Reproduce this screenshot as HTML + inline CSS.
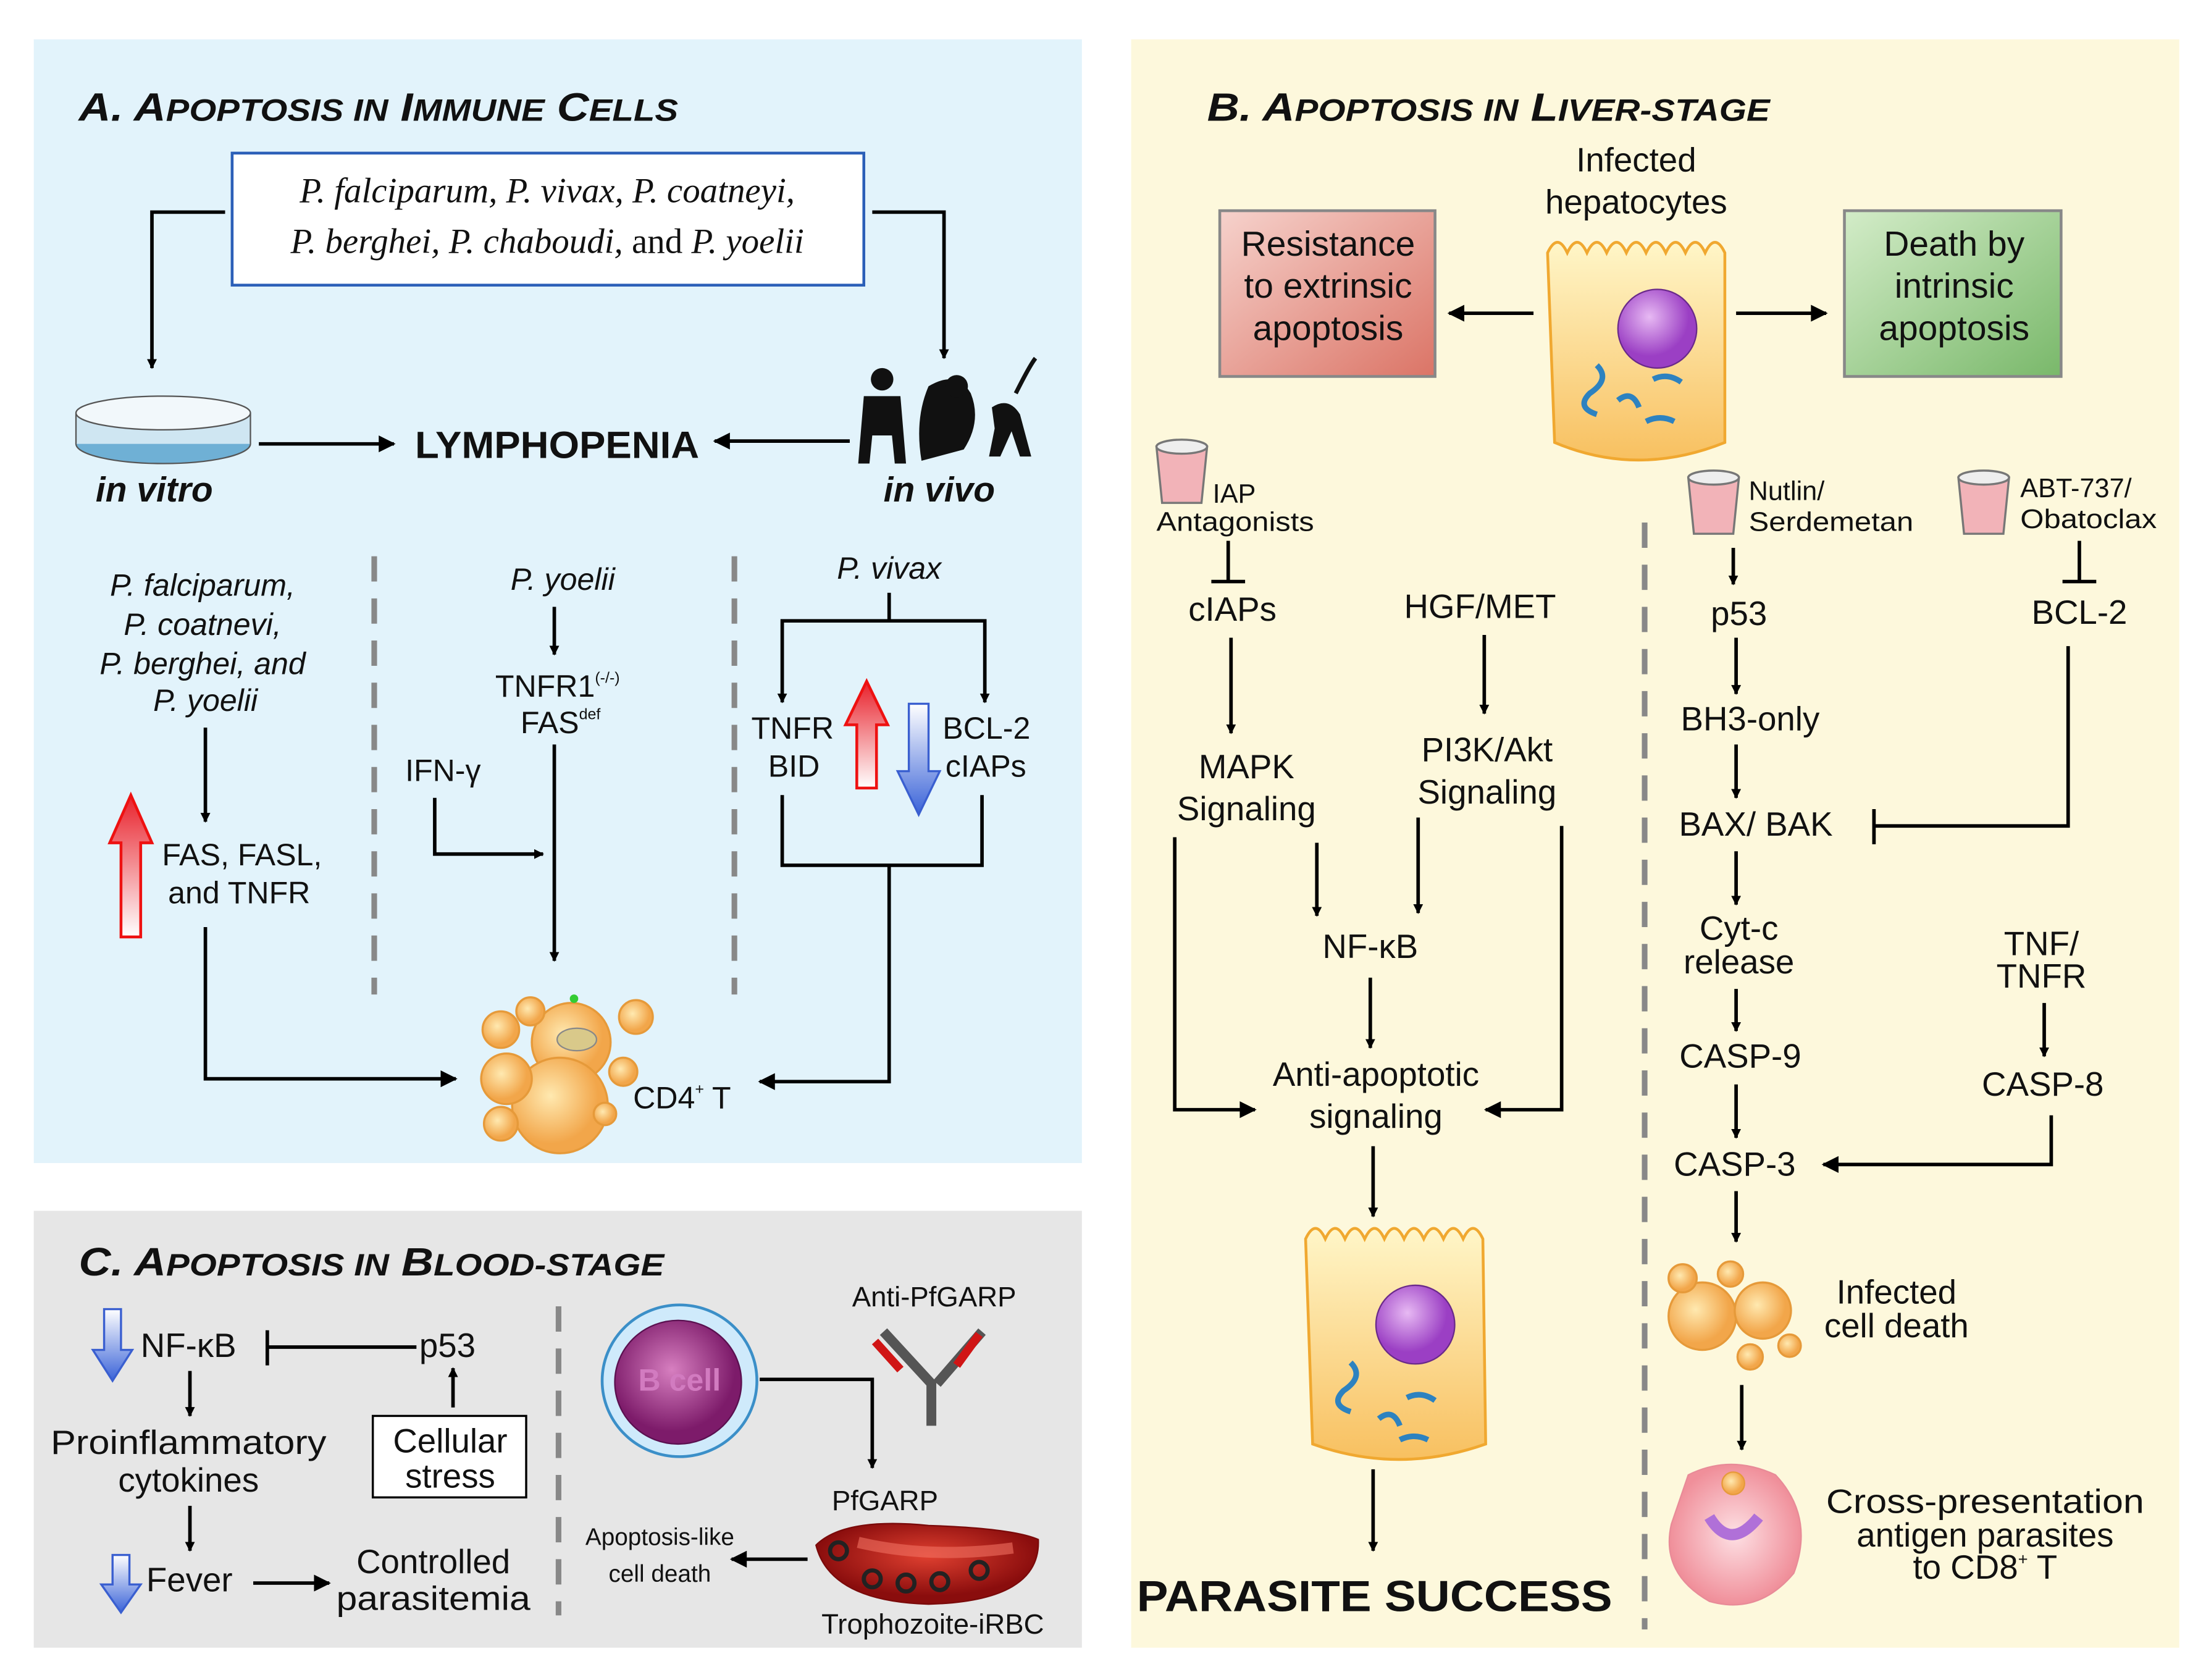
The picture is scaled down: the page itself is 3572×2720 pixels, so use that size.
<!DOCTYPE html>
<html><head><meta charset="utf-8"><style>
html,body{margin:0;padding:0;background:#fff}
svg{display:block}
text{font-family:"Liberation Sans",sans-serif;fill:#111}
.s{font-family:"Liberation Serif",serif;font-style:italic}
.t{font-weight:bold;font-style:italic}
</style></head><body>
<svg width="3572" height="2720" viewBox="0 0 1568 1196" preserveAspectRatio="none" xmlns="http://www.w3.org/2000/svg">
<defs>
<marker id="a" viewBox="0 0 10 10" refX="9" refY="5" markerWidth="7" markerHeight="7" orient="auto" markerUnits="userSpaceOnUse"><path d="M0,0 L10,5 L0,10 z" fill="#000"/></marker>
<marker id="A" viewBox="0 0 10 10" refX="9" refY="5" markerWidth="14" markerHeight="12" orient="auto" markerUnits="userSpaceOnUse"><path d="M0,0 L10,5 L0,10 z" fill="#000"/></marker>
<linearGradient id="red" x1="0" y1="0" x2="0" y2="1"><stop offset="0" stop-color="#e8202a"/><stop offset="1" stop-color="#fff"/></linearGradient>
<linearGradient id="blue" x1="0" y1="1" x2="0" y2="0"><stop offset="0" stop-color="#3a63d8"/><stop offset="1" stop-color="#fff"/></linearGradient>
<linearGradient id="pink" x1="0" y1="0" x2="1" y2="1"><stop offset="0" stop-color="#f6d2cc"/><stop offset="1" stop-color="#db7466"/></linearGradient>
<linearGradient id="green" x1="0" y1="0" x2="1" y2="1"><stop offset="0" stop-color="#d3ecc8"/><stop offset="1" stop-color="#79b86a"/></linearGradient>
<linearGradient id="cell" x1="0" y1="0" x2="0" y2="1"><stop offset="0" stop-color="#fff6c8"/><stop offset="1" stop-color="#f8c060"/></linearGradient>
<radialGradient id="nuc" cx="0.4" cy="0.35"><stop offset="0" stop-color="#e7b9f3"/><stop offset="1" stop-color="#9b3fc4"/></radialGradient>
<radialGradient id="blob" cx="0.4" cy="0.4"><stop offset="0" stop-color="#ffe9b0"/><stop offset="1" stop-color="#f2a64a"/></radialGradient>
<radialGradient id="bc" cx="0.45" cy="0.4"><stop offset="0" stop-color="#d77fc0"/><stop offset="1" stop-color="#7d1b6a"/></radialGradient>
<radialGradient id="rbc" cx="0.5" cy="0.4"><stop offset="0" stop-color="#e04030"/><stop offset="1" stop-color="#8a0d0d"/></radialGradient>
<radialGradient id="apc" cx="0.5" cy="0.5"><stop offset="0" stop-color="#fde0e4"/><stop offset="1" stop-color="#f08f9a"/></radialGradient>
</defs>

<rect x="24" y="28" width="745" height="800" fill="#e2f3fb"/>
<rect x="804" y="28" width="745" height="1145" fill="#fdf8dc"/>
<rect x="24" y="862" width="745" height="311" fill="#e6e6e6"/>

<!-- ===== Panel A ===== -->
<text x="56" y="86" font-size="28" class="t" textLength="426" lengthAdjust="spacingAndGlyphs">A. A<tspan font-size="22">POPTOSIS IN</tspan> I<tspan font-size="22">MMUNE</tspan> C<tspan font-size="22">ELLS</tspan></text>
<rect x="165" y="109" width="449" height="94" fill="#fff" stroke="#2b5fb8" stroke-width="2"/>
<text x="389" y="144" font-size="25" class="s" text-anchor="middle">P. falciparum, P. vivax, P. coatneyi,</text>
<text x="389" y="180" font-size="25" class="s" text-anchor="middle">P. berghei, P. chaboudi, <tspan font-style="normal">and</tspan> P. yoelii</text>
<polyline points="160,151 108,151 108,262" fill="none" stroke="#000" stroke-width="2.5" marker-end="url(#a)"/>
<polyline points="620,151 671,151 671,255" fill="none" stroke="#000" stroke-width="2.5" marker-end="url(#a)"/>
<ellipse cx="116" cy="316" rx="62" ry="14" fill="#6fb0d5" stroke="#555"/>
<rect x="54" y="294" width="124" height="22" fill="#cfe6f2"/>
<path d="M54,294 L54,316 M178,294 L178,316" stroke="#555"/>
<ellipse cx="116" cy="294" rx="62" ry="12" fill="#f2f8fb" stroke="#555"/>
<text x="68" y="357" font-size="25" class="t">in vitro</text>
<text x="628" y="357" font-size="25" class="t">in vivo</text>
<line x1="184" y1="316" x2="280" y2="316" stroke="#000" stroke-width="2.5" marker-end="url(#A)"/>
<text x="295" y="326" font-size="27" font-weight="bold" textLength="202" lengthAdjust="spacingAndGlyphs">LYMPHOPENIA</text>
<line x1="604" y1="314" x2="508" y2="314" stroke="#000" stroke-width="2.5" marker-end="url(#A)"/>
<g fill="#111">
<circle cx="627" cy="270" r="8"/><path d="M614,282 h26 l4,48 h-8 l-2,-20 h-14 l-2,20 h-8 z"/>
<path d="M660,275 q20,-12 30,5 q8,20 -5,40 l-30,8 q-5,-30 5,-53 z"/><circle cx="680" cy="275" r="8"/>
<path d="M705,290 q12,-8 20,5 l8,30 h-8 l-6,-18 l-8,18 h-8 l4,-20 z"/><path d="M722,280 q10,-20 14,-25" stroke="#111" stroke-width="3" fill="none"/>
</g>
<line x1="266" y1="396" x2="266" y2="708" stroke="#888" stroke-width="4" stroke-dasharray="18,12"/>
<line x1="522" y1="396" x2="522" y2="708" stroke="#888" stroke-width="4" stroke-dasharray="18,12"/>
<g font-size="22" text-anchor="middle" font-style="italic">
<text x="144" y="424">P. falciparum,</text>
<text x="144" y="452">P. coatnevi,</text>
<text x="144" y="480">P. berghei, and</text>
<text x="146" y="506">P. yoelii</text>
</g>
<line x1="146" y1="518" x2="146" y2="585" stroke="#000" stroke-width="2.5" marker-end="url(#a)"/>
<path d="M86,667 V600 H78 L93,566 L108,600 H100 V667 Z" fill="url(#red)" stroke="#e11" stroke-width="2"/>
<text x="172" y="616" font-size="22" text-anchor="middle">FAS, FASL,</text>
<text x="170" y="643" font-size="22" text-anchor="middle">and TNFR</text>
<polyline points="146,660 146,768 324,768" fill="none" stroke="#000" stroke-width="2.5" marker-end="url(#A)"/>
<text x="400" y="420" font-size="22" font-style="italic" text-anchor="middle">P. yoelii</text>
<line x1="394" y1="432" x2="394" y2="466" stroke="#000" stroke-width="2.5" marker-end="url(#a)"/>
<text x="352" y="496" font-size="22">TNFR1<tspan font-size="11" dy="-10">(-/-)</tspan></text>
<text x="370" y="522" font-size="22">FAS<tspan font-size="11" dy="-10">def</tspan></text>
<text x="288" y="556" font-size="22">IFN-γ</text>
<polyline points="309,568 309,608 386,608" fill="none" stroke="#000" stroke-width="2.5" marker-end="url(#a)"/>
<line x1="394" y1="530" x2="394" y2="684" stroke="#000" stroke-width="2.5" marker-end="url(#a)"/>
<text x="632" y="412" font-size="22" font-style="italic" text-anchor="middle">P. vivax</text>
<polyline points="632,422 632,442 556,442 556,500" fill="none" stroke="#000" stroke-width="2.5" marker-end="url(#a)"/>
<polyline points="632,442 700,442 700,500" fill="none" stroke="#000" stroke-width="2.5" marker-end="url(#a)"/>
<text x="534" y="526" font-size="22">TNFR</text>
<text x="546" y="553" font-size="22">BID</text>
<path d="M609,561 V516 H601 L616,485 L631,516 H623 V561 Z" fill="url(#red)" stroke="#e11" stroke-width="2"/>
<path d="M646,501 V549 H638 L653,580 L668,549 H660 V501 Z" fill="url(#blue)" stroke="#3a5fd0" stroke-width="1.5"/>
<text x="670" y="526" font-size="22">BCL-2</text>
<text x="672" y="553" font-size="22">cIAPs</text>
<polyline points="556,566 556,616 698,616 698,566" fill="none" stroke="#000" stroke-width="2.5"/>
<polyline points="632,616 632,770 540,770" fill="none" stroke="#000" stroke-width="2.5" marker-end="url(#A)"/>
<g stroke="#e69a3a" stroke-width="1.5" fill="url(#blob)">
<circle cx="406" cy="742" r="28"/><circle cx="398" cy="787" r="34"/><circle cx="360" cy="768" r="18"/>
<circle cx="356" cy="733" r="13"/><circle cx="452" cy="724" r="12"/><circle cx="443" cy="763" r="10"/>
<circle cx="356" cy="800" r="12"/><circle cx="377" cy="720" r="10"/><circle cx="430" cy="793" r="8"/>
</g>
<ellipse cx="410" cy="740" rx="14" ry="8" fill="#d9c98a" stroke="#888"/>
<circle cx="408" cy="711" r="3" fill="#3c3"/>
<text x="450" y="789" font-size="22">CD4<tspan font-size="11" dy="-10">+</tspan><tspan dy="10"> T</tspan></text>

<!-- ===== Panel C ===== -->
<text x="56" y="908" font-size="28" class="t" textLength="416" lengthAdjust="spacingAndGlyphs">C. A<tspan font-size="22">POPTOSIS IN</tspan> B<tspan font-size="22">LOOD-STAGE</tspan></text>
<path d="M74,932 V961 H66 L80,983 L94,961 H86 V932 Z" fill="url(#blue)" stroke="#3a5fd0" stroke-width="1.5"/>
<text x="100" y="966" font-size="24">NF-κB</text>
<line x1="190" y1="947" x2="190" y2="972" stroke="#000" stroke-width="2.5"/>
<line x1="190" y1="959" x2="296" y2="959" stroke="#000" stroke-width="2.5"/>
<text x="298" y="966" font-size="24">p53</text>
<line x1="322" y1="1002" x2="322" y2="974" stroke="#000" stroke-width="2.5" marker-end="url(#a)"/>
<rect x="265" y="1008" width="109" height="58" fill="#fff" stroke="#000" stroke-width="1.5"/>
<text x="320" y="1034" font-size="24" text-anchor="middle">Cellular</text>
<text x="320" y="1059" font-size="24" text-anchor="middle">stress</text>
<line x1="135" y1="976" x2="135" y2="1008" stroke="#000" stroke-width="2.5" marker-end="url(#a)"/>
<text x="134" y="1035" font-size="24" text-anchor="middle" textLength="196" lengthAdjust="spacingAndGlyphs">Proinflammatory</text>
<text x="134" y="1062" font-size="24" text-anchor="middle">cytokines</text>
<line x1="135" y1="1072" x2="135" y2="1104" stroke="#000" stroke-width="2.5" marker-end="url(#a)"/>
<path d="M80,1107 V1128 H72 L86,1148 L100,1128 H92 V1107 Z" fill="url(#blue)" stroke="#3a5fd0" stroke-width="1.5"/>
<text x="104" y="1133" font-size="24">Fever</text>
<line x1="180" y1="1127" x2="234" y2="1127" stroke="#000" stroke-width="2.5" marker-end="url(#A)"/>
<text x="308" y="1120" font-size="24" text-anchor="middle">Controlled</text>
<text x="308" y="1146" font-size="24" text-anchor="middle" textLength="138" lengthAdjust="spacingAndGlyphs">parasitemia</text>
<line x1="397" y1="930" x2="397" y2="1150" stroke="#888" stroke-width="4" stroke-dasharray="18,12"/>
<ellipse cx="483" cy="983" rx="55" ry="54" fill="#cfeafb" stroke="#3b8fc8" stroke-width="2"/>
<ellipse cx="482" cy="984" rx="45" ry="44" fill="url(#bc)" stroke="#5a1050"/>
<text x="483" y="990" font-size="22" font-weight="bold" text-anchor="middle" style="fill:#d27bc0">B cell</text>
<polyline points="540,982 620,982 620,1045" fill="none" stroke="#000" stroke-width="2.5" marker-end="url(#a)"/>
<text x="664" y="930" font-size="20" text-anchor="middle">Anti-PfGARP</text>
<path d="M662,1015 V985 L628,948 M666,985 L698,948" stroke="#555" stroke-width="7" fill="none"/>
<path d="M622,955 L640,975 M696,950 L680,972" stroke="#d01515" stroke-width="6"/>
<text x="629" y="1075" font-size="20" text-anchor="middle">PfGARP</text>
<path d="M580,1100 Q600,1080 660,1086 Q720,1088 738,1096 Q740,1140 660,1142 Q590,1140 580,1100 Z" fill="url(#rbc)" stroke="#7a0a0a"/>
<g fill="none" stroke="#222" stroke-width="3"><circle cx="596" cy="1104" r="6"/><circle cx="620" cy="1124" r="6"/><circle cx="644" cy="1127" r="6"/><circle cx="668" cy="1126" r="6"/><circle cx="696" cy="1118" r="6"/></g>
<path d="M610,1098 Q660,1110 720,1102" stroke="#f07060" stroke-width="8" fill="none" opacity=".6"/>
<line x1="574" y1="1110" x2="520" y2="1110" stroke="#000" stroke-width="2.5" marker-end="url(#A)"/>
<text x="469" y="1100" font-size="17" text-anchor="middle">Apoptosis-like</text>
<text x="469" y="1126" font-size="17" text-anchor="middle">cell death</text>
<text x="663" y="1163" font-size="20" text-anchor="middle">Trophozoite-iRBC</text>

<!-- ===== Panel B ===== -->
<text x="858" y="86" font-size="28" class="t" textLength="400" lengthAdjust="spacingAndGlyphs">B. A<tspan font-size="22">POPTOSIS IN</tspan> L<tspan font-size="22">IVER-STAGE</tspan></text>
<text x="1163" y="122" font-size="24" text-anchor="middle">Infected</text>
<text x="1163" y="152" font-size="24" text-anchor="middle">hepatocytes</text>
<rect x="867" y="150" width="153" height="118" fill="url(#pink)" stroke="#888" stroke-width="2"/>
<text x="944" y="182" font-size="25" text-anchor="middle">Resistance</text>
<text x="944" y="212" font-size="25" text-anchor="middle">to extrinsic</text>
<text x="944" y="242" font-size="25" text-anchor="middle">apoptosis</text>
<rect x="1311" y="150" width="154" height="118" fill="url(#green)" stroke="#888" stroke-width="2"/>
<text x="1389" y="182" font-size="25" text-anchor="middle">Death by</text>
<text x="1389" y="212" font-size="25" text-anchor="middle">intrinsic</text>
<text x="1389" y="242" font-size="25" text-anchor="middle">apoptosis</text>
<line x1="1090" y1="223" x2="1030" y2="223" stroke="#000" stroke-width="2.5" marker-end="url(#A)"/>
<line x1="1234" y1="223" x2="1298" y2="223" stroke="#000" stroke-width="2.5" marker-end="url(#A)"/>
<path d="M1100,180 q7,-15 14,0 q7,-15 14,0 q7,-15 14,0 q7,-15 14,0 q7,-15 14,0 q7,-15 14,0 q7,-15 14,0 q7,-15 14,0 q7,-15 14,0 L1226,315 Q1164,340 1105,315 Z" fill="url(#cell)" stroke="#f0a830" stroke-width="2"/>
<circle cx="1178" cy="234" r="28" fill="url(#nuc)" stroke="#6a2a8a"/>
<path d="M1135,260 q10,10 -5,20 q-10,10 5,15 M1150,285 q10,-8 15,5 M1175,270 q10,-5 20,2 M1170,300 q10,-5 20,0" stroke="#2d82c0" stroke-width="4" fill="none"/>
<g stroke="#777" stroke-width="1.5">
<path d="M822,318 h36 l-4,40 h-28 z" fill="#f2b3b8"/><ellipse cx="840" cy="318" rx="18" ry="5" fill="#eee"/>
<path d="M1200,340 h36 l-4,40 h-28 z" fill="#f2b3b8"/><ellipse cx="1218" cy="340" rx="18" ry="5" fill="#eee"/>
<path d="M1392,340 h36 l-4,40 h-28 z" fill="#f2b3b8"/><ellipse cx="1410" cy="340" rx="18" ry="5" fill="#eee"/>
</g>
<text x="862" y="358" font-size="19">IAP</text>
<text x="822" y="378" font-size="19" textLength="112" lengthAdjust="spacingAndGlyphs">Antagonists</text>
<text x="1243" y="356" font-size="19">Nutlin/</text>
<text x="1243" y="378" font-size="19" textLength="117" lengthAdjust="spacingAndGlyphs">Serdemetan</text>
<text x="1436" y="354" font-size="19">ABT-737/</text>
<text x="1436" y="376" font-size="19" textLength="97" lengthAdjust="spacingAndGlyphs">Obatoclax</text>
<line x1="873" y1="385" x2="873" y2="414" stroke="#000" stroke-width="2.5"/><line x1="861" y1="414" x2="885" y2="414" stroke="#000" stroke-width="2.5"/>
<text x="876" y="442" font-size="24" text-anchor="middle">cIAPs</text>
<text x="1052" y="440" font-size="24" text-anchor="middle">HGF/MET</text>
<line x1="875" y1="454" x2="875" y2="522" stroke="#000" stroke-width="2.5" marker-end="url(#a)"/>
<line x1="1055" y1="452" x2="1055" y2="508" stroke="#000" stroke-width="2.5" marker-end="url(#a)"/>
<text x="886" y="554" font-size="24" text-anchor="middle">MAPK</text>
<text x="886" y="584" font-size="24" text-anchor="middle">Signaling</text>
<text x="1057" y="542" font-size="24" text-anchor="middle">PI3K/Akt</text>
<text x="1057" y="572" font-size="24" text-anchor="middle">Signaling</text>
<line x1="936" y1="600" x2="936" y2="652" stroke="#000" stroke-width="2.5" marker-end="url(#a)"/>
<line x1="1008" y1="582" x2="1008" y2="650" stroke="#000" stroke-width="2.5" marker-end="url(#a)"/>
<text x="974" y="682" font-size="24" text-anchor="middle">NF-κB</text>
<line x1="974" y1="696" x2="974" y2="746" stroke="#000" stroke-width="2.5" marker-end="url(#a)"/>
<polyline points="835,596 835,790 892,790" fill="none" stroke="#000" stroke-width="2.5" marker-end="url(#A)"/>
<polyline points="1110,588 1110,790 1056,790" fill="none" stroke="#000" stroke-width="2.5" marker-end="url(#A)"/>
<text x="978" y="773" font-size="24" text-anchor="middle">Anti-apoptotic</text>
<text x="978" y="803" font-size="24" text-anchor="middle">signaling</text>
<line x1="976" y1="816" x2="976" y2="866" stroke="#000" stroke-width="2.5" marker-end="url(#a)"/>
<path d="M928,882 q7,-15 14,0 q7,-15 14,0 q7,-15 14,0 q7,-15 14,0 q7,-15 14,0 q7,-15 14,0 q7,-15 14,0 q7,-15 14,0 q7,-15 14,0 L1056,1028 Q994,1050 933,1028 Z" fill="url(#cell)" stroke="#f0a830" stroke-width="2"/>
<circle cx="1006" cy="943" r="28" fill="url(#nuc)" stroke="#6a2a8a"/>
<path d="M960,970 q10,10 -5,20 q-10,10 5,15 M980,1010 q10,-8 15,5 M1000,995 q10,-5 20,2 M995,1025 q10,-5 20,0" stroke="#2d82c0" stroke-width="4" fill="none"/>
<line x1="976" y1="1046" x2="976" y2="1104" stroke="#000" stroke-width="2.5" marker-end="url(#a)"/>
<text x="808" y="1147" font-size="31" font-weight="bold" textLength="338" lengthAdjust="spacingAndGlyphs">PARASITE SUCCESS</text>
<line x1="1169" y1="372" x2="1169" y2="1160" stroke="#888" stroke-width="4" stroke-dasharray="18,12"/>
<line x1="1232" y1="390" x2="1232" y2="416" stroke="#000" stroke-width="2.5" marker-end="url(#a)"/>
<text x="1236" y="445" font-size="24" text-anchor="middle">p53</text>
<line x1="1478" y1="385" x2="1478" y2="414" stroke="#000" stroke-width="2.5"/><line x1="1466" y1="414" x2="1490" y2="414" stroke="#000" stroke-width="2.5"/>
<text x="1478" y="444" font-size="24" text-anchor="middle">BCL-2</text>
<line x1="1234" y1="454" x2="1234" y2="494" stroke="#000" stroke-width="2.5" marker-end="url(#a)"/>
<text x="1244" y="520" font-size="24" text-anchor="middle">BH3-only</text>
<line x1="1234" y1="530" x2="1234" y2="568" stroke="#000" stroke-width="2.5" marker-end="url(#a)"/>
<text x="1248" y="595" font-size="24" text-anchor="middle">BAX/ BAK</text>
<polyline points="1470,460 1470,588 1332,588" fill="none" stroke="#000" stroke-width="2.5"/>
<line x1="1332" y1="576" x2="1332" y2="601" stroke="#000" stroke-width="2.5"/>
<line x1="1234" y1="606" x2="1234" y2="644" stroke="#000" stroke-width="2.5" marker-end="url(#a)"/>
<text x="1236" y="669" font-size="24" text-anchor="middle">Cyt-c</text>
<text x="1236" y="693" font-size="24" text-anchor="middle">release</text>
<text x="1451" y="680" font-size="24" text-anchor="middle">TNF/</text>
<text x="1451" y="703" font-size="24" text-anchor="middle">TNFR</text>
<line x1="1234" y1="704" x2="1234" y2="734" stroke="#000" stroke-width="2.5" marker-end="url(#a)"/>
<text x="1237" y="760" font-size="24" text-anchor="middle">CASP-9</text>
<line x1="1453" y1="714" x2="1453" y2="752" stroke="#000" stroke-width="2.5" marker-end="url(#a)"/>
<text x="1452" y="780" font-size="24" text-anchor="middle">CASP-8</text>
<line x1="1234" y1="772" x2="1234" y2="810" stroke="#000" stroke-width="2.5" marker-end="url(#a)"/>
<text x="1233" y="837" font-size="24" text-anchor="middle">CASP-3</text>
<polyline points="1458,794 1458,829 1296,829" fill="none" stroke="#000" stroke-width="2.5" marker-end="url(#A)"/>
<line x1="1234" y1="848" x2="1234" y2="884" stroke="#000" stroke-width="2.5" marker-end="url(#a)"/>
<g stroke="#e69a3a" stroke-width="1.5" fill="url(#blob)">
<circle cx="1210" cy="937" r="24"/><circle cx="1253" cy="933" r="20"/><circle cx="1196" cy="910" r="10"/>
<circle cx="1230" cy="907" r="9"/><circle cx="1272" cy="958" r="8"/><circle cx="1244" cy="966" r="9"/>
</g>
<text x="1348" y="928" font-size="24" text-anchor="middle">Infected</text>
<text x="1348" y="952" font-size="24" text-anchor="middle">cell death</text>
<line x1="1238" y1="986" x2="1238" y2="1032" stroke="#000" stroke-width="2.5" marker-end="url(#a)"/>
<path d="M1200,1050 Q1230,1035 1262,1050 Q1290,1080 1275,1120 Q1250,1150 1215,1140 Q1180,1120 1188,1085 Z" fill="url(#apc)" stroke="#e88b98"/>
<path d="M1215,1080 q15,25 35,0" stroke="#b070d8" stroke-width="8" fill="none"/>
<circle cx="1232" cy="1056" r="8" fill="url(#blob)" stroke="#e69a3a"/>
<text x="1411" y="1077" font-size="24" text-anchor="middle" textLength="226" lengthAdjust="spacingAndGlyphs">Cross-presentation</text>
<text x="1411" y="1101" font-size="24" text-anchor="middle">antigen parasites</text>
<text x="1411" y="1124" font-size="24" text-anchor="middle">to CD8<tspan font-size="12" dy="-10">+</tspan><tspan dy="10"> T</tspan></text>
</svg>
</body></html>
